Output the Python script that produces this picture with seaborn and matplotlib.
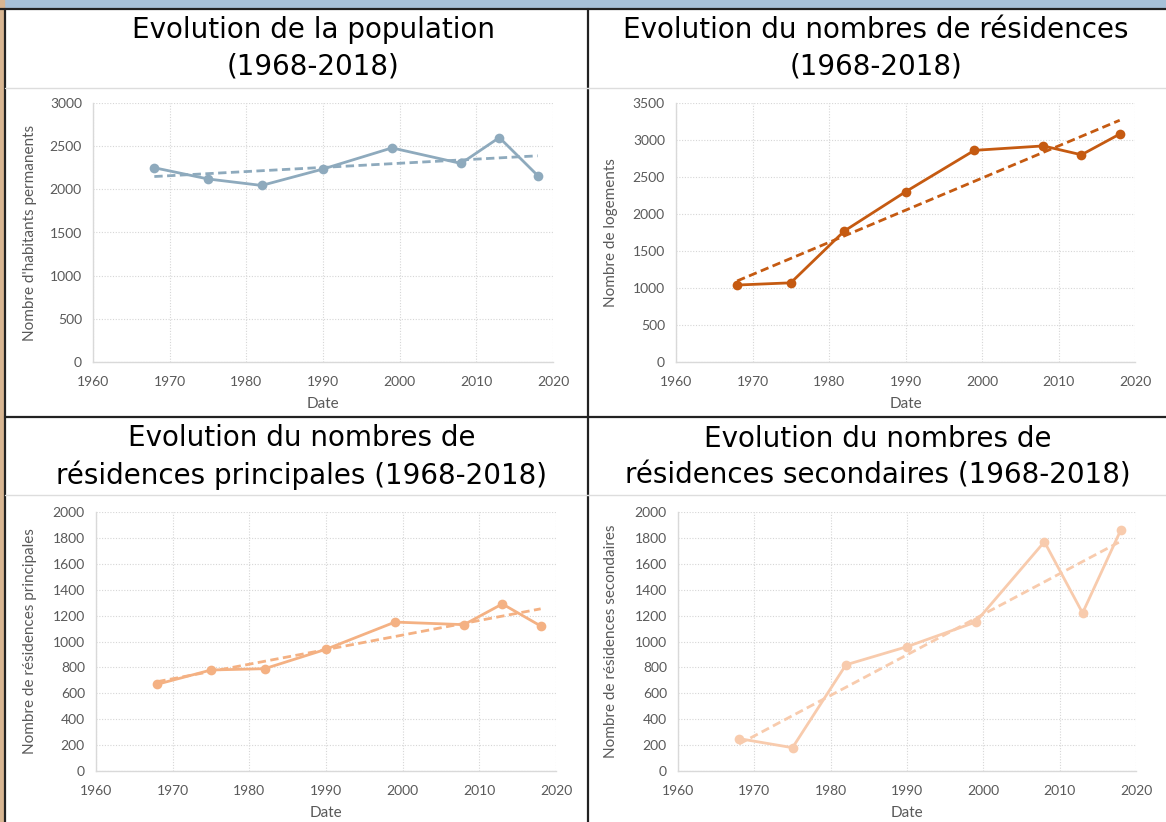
import numpy as np
import pandas as pd
import matplotlib
matplotlib.use("Agg")
import matplotlib.pyplot as plt
from matplotlib.lines import Line2D
from matplotlib.patches import Rectangle
import seaborn as sns

# Data
years = [1968, 1975, 1982, 1990, 1999, 2008, 2013, 2018]
population = [2250, 2120, 2045, 2235, 2480, 2300, 2600, 2160]
logements = [1040, 1070, 1770, 2300, 2860, 2920, 2800, 3080]
res_principales = [670, 780, 790, 940, 1150, 1130, 1290, 1120]
res_secondaires = [250, 180, 820, 960, 1150, 1770, 1220, 1860]

titles = ["Evolution de la population\n(1968-2018)",
          "Evolution du nombres de résidences\n(1968-2018)",
          "Evolution du nombres de\nrésidences principales (1968-2018)",
          "Evolution du nombres de\nrésidences secondaires (1968-2018)"]
ylabels = ["Nombre d'habitants permanents", "Nombre de logements",
           "Nombre de résidences principales", "Nombre de résidences secondaires"]
colors = ["#8eaabd", "#c55a11", "#f4b183", "#f8cbad"]
ymax = [3000, 3500, 2000, 2000]
ystep = [500, 500, 200, 200]

sns.set_theme(style="white")
plt.rcParams['font.family'] = ['DejaVu Sans']

W, H = 1166, 822
fig = plt.figure(figsize=(W / 100, H / 100), dpi=100)

# panel layout in pixels: (left, top, right, bottom) of axes, title centre x, title y
panels = [
    ((93, 103, 553, 362), 313, 48),
    ((676, 103, 1135, 362), 876, 48),
    ((96, 512, 556, 771), 302, 457),
    ((678, 512, 1136, 771), 878, 457),
]

series = [population, logements, res_principales, res_secondaires]

for i, ((l, t, r, b), tx, ty) in enumerate(panels):
    ax = fig.add_axes([l / W, 1 - b / H, (r - l) / W, (b - t) / H])
    df = pd.DataFrame({"Date": years, "val": series[i]})
    sns.regplot(data=df, x="Date", y="val", ax=ax, scatter=False, ci=None,
                truncate=True, color=colors[i],
                line_kws=dict(ls="--", lw=2, dashes=(3, 1.6)))
    sns.lineplot(data=df, x="Date", y="val", ax=ax, color=colors[i], lw=2,
                 marker="o", markersize=7, markeredgewidth=0)
    ax.set_xlim(1960, 2020)
    ax.set_ylim(0, ymax[i])
    ax.set_xticks(range(1960, 2021, 10))
    ax.set_yticks(range(0, ymax[i] + 1, ystep[i]))
    ax.grid(True, ls=(0, (1, 1.5)), color="#d6d6d6", lw=0.8)
    for s in ["top", "right"]:
        ax.spines[s].set_visible(False)
    for s in ["left", "bottom"]:
        ax.spines[s].set_color("#d9d9d9")
        ax.spines[s].set_linewidth(1)
    ax.tick_params(axis="both", length=0, labelsize=10, labelcolor="#595959")
    ax.tick_params(axis="x", pad=10)
    ax.tick_params(axis="y", pad=8)
    for lab in ax.get_xticklabels() + ax.get_yticklabels():
        lab.set_family("Lato")
    ax.set_xlabel("Date", fontsize=11, color="#595959", family="Lato")
    ax.set_ylabel(ylabels[i], fontsize=11, color="#595959", family="Lato")
    ax.xaxis.set_label_coords(0.5, -35 / (b - t))
    ax.yaxis.set_label_coords(-(l - (37 if l < 500 else 618)) / (r - l), 0.5)
    fig.text(tx / W, 1 - ty / H, titles[i], ha="center", va="center",
             fontsize=20, color="black", linespacing=1.38)

# frame decorations
def hline(y, x0, x1, color, lw):
    fig.add_artist(Line2D([x0 / W, x1 / W], [1 - y / H, 1 - y / H], color=color, lw=lw))

def vline(x, y0, y1, color, lw):
    fig.add_artist(Line2D([x / W, x / W], [1 - y0 / H, 1 - y1 / H], color=color, lw=lw))

fig.add_artist(Rectangle((0, 1 - 8 / H), 1, 8 / H, color="#a7c1d8", transform=fig.transFigure))
fig.add_artist(Rectangle((0, 0), 4 / W, 1, color="#d8b692", transform=fig.transFigure))
hline(9, 0, W, "#222222", 1.6)
vline(5, 9, H, "#222222", 1.6)
vline(588, 9, H, "#222222", 1.6)
hline(417, 5, W, "#222222", 1.6)
hline(88, 5, 588, "#dddddd", 1)
hline(88, 588, W, "#dddddd", 1)
hline(495, 5, 588, "#dddddd", 1)
hline(495, 588, W, "#dddddd", 1)

fig.savefig("out.png", dpi=100)
